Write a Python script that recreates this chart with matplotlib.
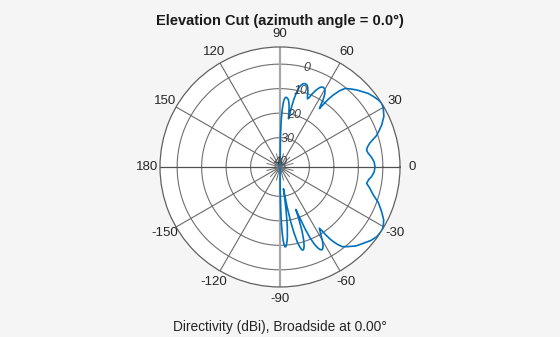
import numpy as np
import matplotlib
matplotlib.use("Agg")
import matplotlib.pyplot as plt

plt.rcParams["font.family"] = ["Liberation Sans", "DejaVu Sans"]

# Elevation cut of the array directivity, -90..90 deg (dBi)
elev_deg = [
    -90, -89.5, -89, -88.5, -88, -87.5, -87, -86.4, -85.8, -85.2, -84.5, -84,
    -83, -82, -81.5, -81, -80.5, -80, -79, -78, -77, -76, -75.2, -74.5, -73.8,
    -73, -72, -71, -70, -69.5, -69, -68, -67, -66, -65, -64.2, -63.3, -62.5,
    -62, -61, -60, -59, -58, -57.3, -56.5, -56, -55.3, -54.5, -53.3, -52,
    -49.4, -46, -42.5, -39, -35.8, -32, -30, -27, -23.7, -20, -16.7, -13,
    -10.7, -8, -6, -3, 0,
    3, 6, 9, 11, 13, 15, 18, 20, 22.4, 26, 29.6, 32, 34.3, 37, 39.8, 43,
    45.1, 48, 50.4, 52, 53.5, 54.5, 55.3, 56, 56.7, 57.5, 58.5, 59.5, 60.5,
    61.5, 62.5, 63.5, 65, 66.3, 67.2, 68, 68.8, 69.8, 71, 72, 73, 74, 74.8,
    75.6, 76.5, 77.5, 78.5, 79.3, 80, 80.7, 81.5, 82.5, 83.5, 84.5, 85.5,
    86.3, 87, 87.8, 88.5, 89.2, 90,
]
directivity_dbi = [
    -41.5, -32, -24, -18, -14.5, -11.8, -10.3, -9.3, -9.4, -10.2, -11.8, -13.2,
    -17.5, -24, -28.5, -33, -30, -26, -19.5, -14.5, -10.5, -8.2, -7.0, -6.8, -7.2,
    -8.3, -10.8, -14.5, -20, -23.5, -21, -15, -10.5, -7.5, -5.6, -4.6, -4.1, -4.3,
    -4.7, -5.8, -7.5, -9.5, -11.3, -12.3, -10.5, -8.5, -6.4, -4.6, -2.5, -0.7,
    0.8, 2.8, 4.1, 5.7, 6.7, 7.0, 6.7, 5.5, 3.3, 0.8, -2.2, -4.5,
    -6.0, -5.4, -4.4, -3.5, -3.2,
    -3.5, -4.4, -5.6, -6.0, -5.3, -4.0, -0.6, 1.0, 2.9, 5.2, 6.5, 7.0, 6.6, 5.8, 4.9, 3.3,
    2.4, 0.9, -0.4, -2.5, -5.4, -8.0, -11, -13.2, -11.5, -9.0, -7.0, -5.8, -5.2,
    -5.0, -5.2, -5.8, -7.5, -9.5, -11.2, -12, -11, -9.0, -7.3, -6.7, -6.5, -6.6, -6.9,
    -7.5, -8.6, -10.8, -14, -18, -22, -19.5, -16.8, -14.8, -13.9, -13.5, -13.5,
    -14.2, -15.5, -18.5, -23, -30, -41.5,
]

r_min, r_max = -42, 7
ring_db = [-40, -30, -20, -10, 0]
ring_labels = ["40", "30", "20", "10", "0"]
angle_ticks = [0, 30, 60, 90, 120, 150, 180, -150, -120, -90, -60, -30]

fig = plt.figure(figsize=(5.6, 3.37), dpi=100, facecolor="#f5f5f5")
ax = fig.add_axes([0.2857, 0.1484, 0.4286, 0.7122], projection="polar")
ax.set_facecolor("white")
ax.set_rlim(r_min, r_max)
ax.grid(False)
ax.set_xticks([])
ax.set_yticks([])
ax.spines["polar"].set_color("#606060")
ax.spines["polar"].set_linewidth(0.9)

full = np.linspace(0, 2 * np.pi, 361)
for db in ring_db:
    ax.plot(full, np.full_like(full, db), color="#707070", lw=0.8, zorder=1)

# spokes every 30 deg, short ones in between near the origin
for a in range(0, 360, 30):
    if a in (90, 270):
        ax.plot([np.radians(a)] * 2, [r_min, r_max], color="#a8a8a8", lw=1.6, zorder=1)
    elif a in (0, 180):
        ax.plot([np.radians(a)] * 2, [r_min, r_max], color="#505050", lw=0.9, zorder=1)
    else:
        ax.plot([np.radians(a)] * 2, [r_min, r_max], color="#6a6a6a", lw=0.8, zorder=1)
for a in range(15, 360, 30):
    ax.plot([np.radians(a)] * 2, [r_min, -36.5], color="#707070", lw=0.7, zorder=1)

ax.plot(np.radians(elev_deg), directivity_dbi, color="#0072BD", lw=1.2, zorder=3)

for db, lab in zip(ring_db, ring_labels):
    ax.text(np.radians(75), db, lab, fontsize=9, style="italic", color="#404040",
            ha="center", va="center", zorder=4)

k = 132.5 / 120
for a in angle_ticks:
    t = np.radians(a)
    ax.text(0.5 + 0.5 * k * np.cos(t), 0.5 + 0.5 * k * np.sin(t), str(a),
            transform=ax.transAxes, ha="center", va="center", fontsize=9.5,
            color="#262626", clip_on=False)

fig.text(0.5, 0.938, "Elevation Cut (azimuth angle = 0.0°)", ha="center", va="center",
         fontsize=10.5, fontweight="bold", color="#1a1a1a")
fig.text(0.5, 0.03, "Directivity (dBi), Broadside at 0.00°", ha="center", va="center",
         fontsize=9.9, color="#262626")

fig.savefig("out.png", dpi=100, facecolor=fig.get_facecolor())
